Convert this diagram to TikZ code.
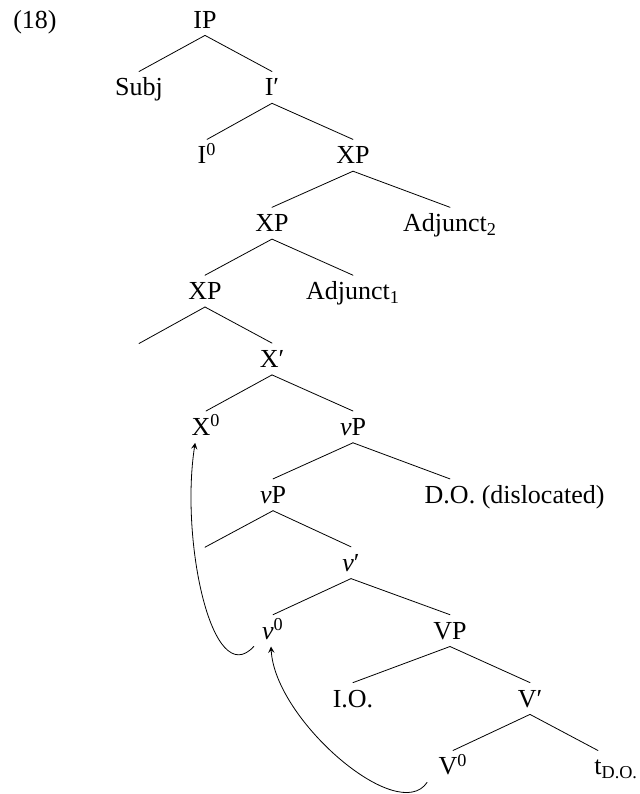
\documentclass[tikz,border=0pt]{standalone}
\usepackage{fontspec}
\setmainfont{Liberation Serif}
\begin{document}
\begin{tikzpicture}[x=0.5pt, y=-0.5pt, font=\fontsize{13}{15}\selectfont, line join=round, line cap=round,>=stealth,
	every node/.style={anchor=base, inner sep=0pt, text height=12pt, text depth=3.5pt}]
			\def\lev#1{28+67.9*#1}
			\useasboundingbox (0,0) rectangle (640,794);
			\node (num) at (35,{\lev{0}}) {(18)};
			\node (ip) at (205,{\lev{0}}) {IP};
			\node (subj) at (139,{\lev{1}}) {Subj};
			\node (ibar) at (272,{\lev{1}}) {I′};
			\node (izero) at (207,{\lev{2}}) {I\textsuperscript{0}};
			\node (xp) at (353,{\lev{2}}) {XP};
			\node (xpa) at (272,{\lev{3}}) {XP};
			\node (adjb) at (450,{\lev{3}}) {Adjunct\textsubscript{2}};
			\node (xpb) at (205,{\lev{4}}) {XP};
			\node (adja) at (353,{\lev{4}}) {Adjunct\textsubscript{1}};
			\coordinate (specx) at (139,{\lev{5}-24});
			\node (xbar) at (272,{\lev{5}}) {X′};
			\node (xzero) at (206,{\lev{6}}) {X\textsuperscript{0}};
			\node (vp) at (353,{\lev{6}}) {\textit{v}P};
			\node (vpa) at (273,{\lev{7}}) {\textit{v}P};
			\node (do) at (450,{\lev{7}}) {D.O.\rlap{\ (dislocated)}};
			\coordinate (specv) at (205,{\lev{8}-24});
			\node (vbar) at (351,{\lev{8}}) {\textit{v}′};
			\node (vzero) at (273,{\lev{9}}) {\textit{v}\textsuperscript{0}};
			\node (vpb) at (450,{\lev{9}}) {VP};
			\node (io) at (353,{\lev{10}}) {I.O.};
			\node (vbarb) at (530,{\lev{10}}) {V′};
			\node (vzerob) at (453,{\lev{11}}) {V\textsuperscript{0}};
			\node (trace) at (598,{\lev{11}}) {t\rlap{\textsubscript{D.O.}}};
			\foreach \a/\b in {ip/subj,ip/ibar,ibar/izero,ibar/xp,xp/xpa,xp/adjb,xpa/xpb,xpa/adja,xbar/xzero,xbar/vp,
				vp/vpa,vp/do,vbar/vzero,vbar/vpb,vpb/io,vpb/vbarb,vbarb/vzerob,vbarb/trace}{
				\draw (\a.south) -- (\b.north);
			}
			\draw (xpb.south) -- (specx);
			\draw (xpb.south) -- (xbar.north);
			\draw (vpa.south) -- (specv);
			\draw (vpa.south) -- (vbar.north);
			% head movement
			\draw[->] ([xshift=-4pt]vzero.south west) .. controls (212,692) and (180,540) .. ([xshift=2pt]xzero.south west);
			\draw[->] ([xshift=-5.5pt]vzerob.south west) .. controls (398,826) and (275,720) .. ([xshift=-1pt]vzero.south);
		\end{tikzpicture}
\end{document}
